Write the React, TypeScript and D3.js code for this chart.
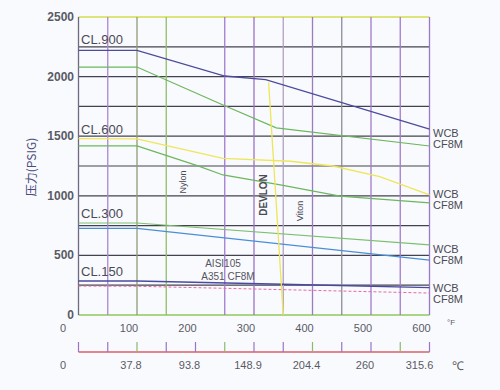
import React from "react";
import * as d3 from "d3";

// pressure / temperature points: [°F, psig]
const cl900Wcb: [number, number][] = [[0, 2220], [100, 2220], [250, 2005], [320, 1975], [600, 1560]];
const cl900Cf8m: [number, number][] = [[0, 2080], [100, 2080], [250, 1755], [338, 1570], [600, 1418]];
const cl600Wcb: [number, number][] = [[0, 1480], [100, 1478], [247, 1314], [362, 1290], [435, 1250], [515, 1160], [600, 1007]];
const cl600Cf8m: [number, number][] = [[0, 1418], [100, 1418], [203, 1253], [247, 1175], [345, 1091], [447, 998], [600, 940]];
const cl300Wcb: [number, number][] = [[0, 772], [100, 772], [600, 588]];
const cl300Cf8m: [number, number][] = [[0, 727], [100, 727], [600, 461]];
const cl150Wcb: [number, number][] = [[0, 285], [100, 285], [350, 258], [600, 230]];
const cl150Cf8m: [number, number][] = [[0, 243], [100, 241], [600, 184]];
const seatLimit: [number, number][] = [[325, 1950], [350, 0]];

const yTicks = [0, 500, 1000, 1500, 2000, 2500];
const yGrid = [250, 500, 750, 1000, 1250, 1500, 1750, 2000, 2250];
const xGrid = [0, 50, 100, 150, 250, 300, 350, 400, 450, 500, 550, 600];
const xGridColors = ["#6e6a86", "#a988d2", "#8f9c78", "#8fbf6a", "#a27bcf", "#9a74c8", "#b0a2c0", "#9a7cc0", "#8c8c9a", "#a07ccc", "#a07ccc", "#9a78c8"];
const fTicks = [0, 100, 200, 300, 400, 500, 600];
const cTicksF = [0, 50, 100, 150, 200, 250, 300, 350, 400, 450, 500, 550, 600];
const cLabels = ["0", "37.8", "93.8", "148.9", "204.4", "260", "315.6"];
const classLabels = [
  { text: "CL.900", p: 2315 },
  { text: "CL.600", p: 1560 },
  { text: "CL.300", p: 856 },
  { text: "CL.150", p: 369 },
];
const endLabels = [
  { text: "WCB", p: 1527 },
  { text: "CF8M", p: 1435 },
  { text: "WCB", p: 1015 },
  { text: "CF8M", p: 923 },
  { text: "WCB", p: 554 },
  { text: "CF8M", p: 461 },
  { text: "WCB", p: 226 },
  { text: "CF8M", p: 134 },
];

const W = 500;
const H = 390;
const x = d3.scaleLinear().domain([0, 600]).range([78.5, 429.5]);
const y = d3.scaleLinear().domain([0, 2500]).range([315, 17]);
const line = d3
  .line<[number, number]>()
  .x((d) => x(d[0]))
  .y((d) => y(d[1]));

const font = "'Liberation Sans', Arial, sans-serif";
const txt = "#5a5a66";

export default function App() {
  const cAxisY = 352;
  return (
    <svg
      width={W}
      height={H}
      viewBox={`0 0 ${W} ${H}`}
      style={{ position: "absolute", left: 0, top: 0, background: "#f9fafd" }}
      fontFamily={font}
    >
      {/* horizontal grid */}
      {yGrid.map((p) => (
        <line key={p} x1={x(0)} x2={x(600)} y1={y(p)} y2={y(p)} stroke="#44424f" strokeWidth={1.2} />
      ))}
      <line x1={x(0)} x2={x(600)} y1={y(2500)} y2={y(2500)} stroke="#d2dc4e" strokeWidth={1.4} />
      <line x1={x(0)} x2={x(600)} y1={y(0)} y2={y(0)} stroke="#8ec85c" strokeWidth={1.6} />

      {/* vertical grid */}
      {xGrid.map((t, i) => (
        <line key={t} x1={x(t)} x2={x(t)} y1={y(2500)} y2={y(0)} stroke={xGridColors[i]} strokeWidth={1.3} />
      ))}

      {/* rating curves */}
      <path d={line(cl900Wcb) || ""} fill="none" stroke="#4d4c9c" strokeWidth={1.3} />
      <path d={line(cl900Cf8m) || ""} fill="none" stroke="#6cb65e" strokeWidth={1.2} />
      <path d={line(cl600Wcb) || ""} fill="none" stroke="#eee65a" strokeWidth={1.3} />
      <path d={line(cl600Cf8m) || ""} fill="none" stroke="#6cb65e" strokeWidth={1.2} />
      <path d={line(cl300Wcb) || ""} fill="none" stroke="#7cc070" strokeWidth={1.2} />
      <path d={line(cl300Cf8m) || ""} fill="none" stroke="#4a8ed6" strokeWidth={1.2} />
      <path d={line(cl150Wcb) || ""} fill="none" stroke="#4a4aa0" strokeWidth={1.4} />
      <path d={line(cl150Cf8m) || ""} fill="none" stroke="#e66aa8" strokeWidth={1} strokeDasharray="3,2" />
      <path d={line(seatLimit) || ""} fill="none" stroke="#eee65a" strokeWidth={1.3} />

      {/* y ticks */}
      {yTicks.map((p) => (
        <text key={p} x={74} y={y(p) + 4} textAnchor="end" fontSize={12} fontWeight="bold" fill={txt}>
          {p}
        </text>
      ))}
      <text
        transform={`translate(36,167) rotate(-90)`}
        textAnchor="middle"
        fontSize={12}
        fill="#4a4a7c"
        fontFamily="'Noto Sans CJK SC', sans-serif"
      >
        压力(PSIG)
      </text>

      {/* class labels */}
      {classLabels.map((c) => (
        <text key={c.text} x={81} y={y(c.p) + 5} fontSize={13} fill="#4a4a55">
          {c.text}
        </text>
      ))}
      {endLabels.map((e, i) => (
        <text key={i} x={433} y={y(e.p) + 4} fontSize={11} fill="#4a4a55">
          {e.text}
        </text>
      ))}

      {/* material notes */}
      <text transform="translate(185.5,182) rotate(-90)" textAnchor="middle" fontSize={9} fill="#4a4a55">
        Nylon
      </text>
      <text transform="translate(267,195) rotate(-90)" textAnchor="middle" fontSize={10} fontWeight="bold" fill="#4a4a55">
        DEVLON
      </text>
      <text transform="translate(303,211) rotate(-90)" textAnchor="middle" fontSize={9} fill="#4a4a55">
        Viton
      </text>
      <text x={223} y={267} textAnchor="middle" fontSize={10} fill="#55555f">
        AISI105
      </text>
      <text x={228} y={280} textAnchor="middle" fontSize={10} fill="#55555f">
        A351  CF8M
      </text>

      {/* °F labels */}
      {fTicks.map((t) => (
        <text key={t} x={t === 0 ? 63 : x(t) - 8} y={332} textAnchor="middle" fontSize={11} fill={txt}>
          {t}
        </text>
      ))}
      <text x={447} y={325} fontSize={8} fill={txt}>
        °F
      </text>

      {/* °C axis */}
      <line x1={x(0)} x2={x(600)} y1={cAxisY} y2={cAxisY} stroke="#d6606a" strokeWidth={1.3} />
      {cTicksF.map((t, i) => (
        <line
          key={t}
          x1={x(t)}
          x2={x(t)}
          y1={cAxisY}
          y2={cAxisY - 10}
          stroke={i % 3 === 2 ? "#90b868" : "#9a74c6"}
          strokeWidth={1.2}
        />
      ))}
      {fTicks.map((t, i) => (
        <text
          key={t}
          x={t === 0 ? 63 : t === 600 ? x(t) - 10 : x(t) - 6}
          y={369}
          textAnchor="middle"
          fontSize={11}
          fill={txt}
        >
          {cLabels[i]}
        </text>
      ))}
      <text x={452} y={370} fontSize={12} fill={txt}>
        ℃
      </text>
    </svg>
  );
}
